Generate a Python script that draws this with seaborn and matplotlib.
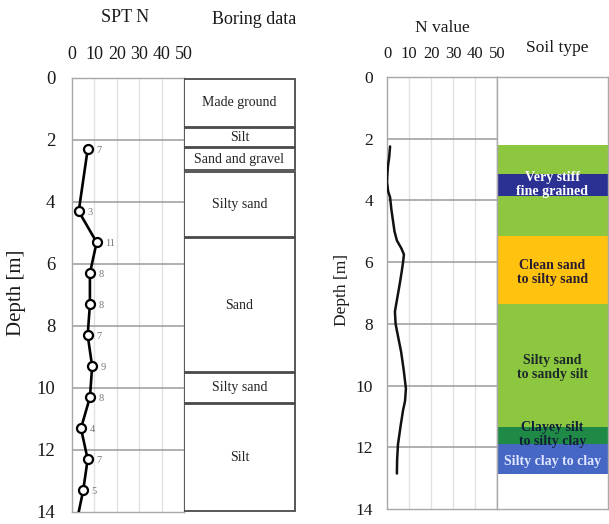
import numpy as np
import pandas as pd
import matplotlib
matplotlib.use("Agg")
import matplotlib.pyplot as plt
import seaborn as sns

# ---------------- data ----------------
# SPT blow counts from the borehole
spt_depth = [2.3, 4.3, 5.3, 6.3, 7.3, 8.3, 9.3, 10.3, 11.3, 12.3, 13.3]
spt_n = [7, 3, 11, 8, 8, 7, 9, 8, 4, 7, 5]
# the log continues to the bottom of the borehole
end_depth = 14.0
end_n = 3

# boring log layers (top, bottom, name)
boring_top = [0.0, 1.6, 2.25, 3.0, 5.15, 9.5, 10.5]
boring_bottom = [1.6, 2.25, 3.0, 5.15, 9.5, 10.5, 14.0]
boring_names = ["Made ground", "Silt", "Sand and gravel", "Silty sand",
                "Sand", "Silty sand", "Silt"]

# N value estimated from the cone profile
cpt_depth = [2.25, 2.6, 2.85, 3.1, 3.4, 3.7, 3.9, 4.3, 4.6, 5.0, 5.3, 5.55,
             5.75, 6.0, 6.3, 6.7, 7.15, 7.6, 8.0, 8.4, 8.9, 9.5, 10.1, 10.5,
             10.8, 11.3, 11.9, 12.4, 12.85]
cpt_n = [1.4, 1.0, 0.5, 0.2, 0.0, 0.5, 1.4, 2.0, 2.6, 3.4, 4.5, 6.5,
         7.7, 7.3, 6.7, 5.8, 4.7, 3.6, 3.9, 5.0, 6.4, 7.6, 8.6, 8.2,
         7.3, 6.2, 5.0, 4.6, 4.5]

# soil behaviour type bands (top, bottom, colour)
soil_top = [2.2, 3.13, 3.85, 5.16, 7.35, 11.35, 11.9]
soil_bottom = [3.13, 3.85, 5.16, 7.35, 11.35, 11.9, 12.87]
soil_colors = ["#8dc63f", "#2b3192", "#8dc63f", "#ffc20e", "#8dc63f",
               "#1f8a45", "#4767c4"]

# soil type labels (depth of label centre, text, colour)
soil_label_depth = [3.5, 6.35, 9.4, 11.6, 12.45]
soil_labels = ["Very stiff\nfine grained", "Clean sand\nto silty sand",
               "Silty sand\nto sandy silt", "Clayey silt\nto silty clay",
               "Silty clay to clay"]
soil_label_colors = ["white", "#2a1e2e", "#1c2a2a", "#10203a", "#dfe6ff"]

n_ticks = [0, 10, 20, 30, 40, 50]
depth_ticks = [0, 2, 4, 6, 8, 10, 12, 14]

# ---------------- style ----------------
sns.set_theme(style="white")
plt.rcParams["font.family"] = ["Liberation Serif", "DejaVu Serif"]
plt.rcParams["text.color"] = "#1a1a1a"
plt.rcParams["xtick.color"] = "#1a1a1a"
plt.rcParams["ytick.color"] = "#1a1a1a"

W, H = 609, 524
fig = plt.figure(figsize=(W / 100, H / 100), dpi=100)


def box(x0, y0, x1, y1):
    """Axes rectangle from pixel edges (origin top-left)."""
    return [x0 / W, 1 - y1 / H, (x1 - x0) / W, (y1 - y0) / H]


ax_spt = fig.add_axes(box(72, 78, 184, 512))
ax_bor = fig.add_axes(box(184, 78, 297, 512))
ax_cpt = fig.add_axes(box(387, 77, 497, 509))
ax_soil = fig.add_axes(box(497, 77, 608, 509))

grid_dark = "#9a9a9a"
grid_light = "#e2e2e2"


def depth_axis(ax, xfs, yfs, pad):
    ax.set_xlim(0, 50)
    ax.set_ylim(14, 0)
    ax.xaxis.tick_top()
    ax.set_xticks(n_ticks)
    ax.set_yticks(depth_ticks)
    ax.tick_params(axis="x", length=0, pad=pad[0], labelsize=xfs)
    ax.tick_params(axis="y", length=0, pad=pad[1], labelsize=yfs)
    for v in n_ticks[1:-1]:
        ax.axvline(v, color=grid_light, lw=1.0, zorder=0)
    for d in depth_ticks[1:-1]:
        ax.axhline(d, color=grid_dark, lw=1.1, zorder=0)
    for s in ax.spines.values():
        s.set_color("#a8a8a8")
        s.set_linewidth(1.0)


# ---------------- SPT N profile ----------------
depth_axis(ax_spt, 13, 13.5, (11, 12))
spt_line = pd.DataFrame({"N": spt_n + [end_n], "Depth": spt_depth + [end_depth]})
sns.lineplot(data=spt_line, x="N", y="Depth", sort=False, estimator=None,
             color="black", lw=1.9, ax=ax_spt, zorder=3)
sns.scatterplot(x=spt_n, y=spt_depth, ax=ax_spt, s=42, marker="o",
                facecolor="white", edgecolor="black", linewidth=1.6, zorder=4)
for n, d in zip(spt_n, spt_depth):
    ax_spt.annotate(str(n), (n, d), xytext=(6, -1), textcoords="offset points",
                    fontsize=7.5, color="#777777", va="center", ha="left")
ax_spt.set_xlim(0, 50)
ax_spt.set_ylim(14, 0)
ax_spt.set_xlabel("")
ax_spt.set_ylabel("")

# ---------------- boring log ----------------
ax_bor.set_xlim(0, 1)
ax_bor.set_ylim(14, 0)
ax_bor.axis("off")
for top, bot, name in zip(boring_top, boring_bottom, boring_names):
    ax_bor.barh((top + bot) / 2, 0.985, height=bot - top - 0.04, left=0.0,
                color="white", edgecolor="#4a4a4a", linewidth=1.3)
    ax_bor.text(0.49, (top + bot) / 2, name, ha="center", va="center",
                fontsize=10, color="#222222")

# ---------------- N value from cone ----------------
depth_axis(ax_cpt, 12, 12.5, (11, 10))
cpt = pd.DataFrame({"N": cpt_n, "Depth": cpt_depth})
sns.lineplot(data=cpt, x="N", y="Depth", sort=False, estimator=None,
             color="#111111", lw=1.8, ax=ax_cpt, zorder=3)
ax_cpt.set_xlim(0, 50)
ax_cpt.set_ylim(14, 0)
ax_cpt.set_xlabel("")
ax_cpt.set_ylabel("")

# ---------------- soil type column ----------------
ax_soil.set_xlim(0, 1)
ax_soil.set_ylim(14, 0)
ax_soil.set_xticks([])
ax_soil.set_yticks([])
for s in ax_soil.spines.values():
    s.set_color("#a8a8a8")
    s.set_linewidth(1.0)
for top, bot, c in zip(soil_top, soil_bottom, soil_colors):
    ax_soil.barh((top + bot) / 2, 1.0, height=bot - top, left=0.0,
                 color=c, edgecolor="none", linewidth=0)
for d, lab, c in zip(soil_label_depth, soil_labels, soil_label_colors):
    ax_soil.text(0.5, d, lab, ha="center", va="center", fontsize=10,
                 fontweight="bold", color=c, linespacing=1.1)

# ---------------- headers and axis titles ----------------
fig.text(125 / W, 1 - 18 / H, "SPT N", ha="center", va="center", fontsize=13)
fig.text(254 / W, 1 - 20 / H, "Boring data", ha="center", va="center",
         fontsize=13)
fig.text(17 / W, 1 - 293 / H, "Depth [m]", ha="center", va="center",
         fontsize=15, rotation=90)
fig.text(442 / W, 1 - 28 / H, "N value", ha="center", va="center",
         fontsize=12.5)
fig.text(557 / W, 1 - 48 / H, "Soil type", ha="center", va="center",
         fontsize=12.5)
fig.text(342 / W, 1 - 290 / H, "Depth [m]", ha="center", va="center",
         fontsize=12.5, rotation=90)

fig.savefig("out.png", dpi=100, facecolor="white")
